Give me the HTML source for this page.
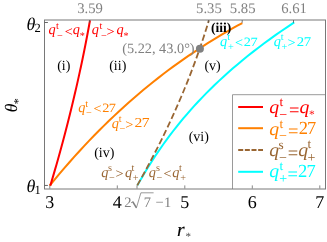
<!DOCTYPE html>
<html><head><meta charset="utf-8"><title>chart</title>
<style>
html,body{margin:0;padding:0;background:#fff;}
svg{display:block;font-family:"Liberation Serif",serif;will-change:transform;text-rendering:geometricPrecision;}
</style></head>
<body>
<svg width="327" height="242" viewBox="0 0 327 242">
<rect x="0" y="0" width="327" height="242" fill="#ffffff"/>
<path d="M137.46,185.30 L139.82,181.12 L142.24,176.95 L144.72,172.77 L147.25,168.59 L149.85,164.42 L152.51,160.24 L155.25,156.06 L158.05,151.88 L160.92,147.71 L163.87,143.53 L166.90,139.35 L170.00,135.18 L173.19,131.00 L176.47,126.82 L179.84,122.65 L183.30,118.47 L186.85,114.29 L190.50,110.12 L194.25,105.94 L198.10,101.76 L202.06,97.58 L206.12,93.41 L210.29,89.23 L214.58,85.05 L218.98,80.88 L223.50,76.70 L228.14,72.52 L232.91,68.35 L237.80,64.17 L242.82,59.99 L247.97,55.82 L253.26,51.64 L258.68,47.46 L264.24,43.28 L269.95,39.11 L275.79,34.93 L281.79,30.75 L287.94,26.58 L294.24,22.40" stroke="#00ffff" stroke-width="2" fill="none"/>
<path d="M49.70,185.57 L54.64,179.56 L59.58,173.67 L64.52,167.90 L69.45,162.23 L74.39,156.68 L79.33,151.24 L84.27,145.91 L89.21,140.68 L94.15,135.56 L99.08,130.55 L104.02,125.63 L108.96,120.82 L113.90,116.11 L118.84,111.49 L123.78,106.97 L128.72,102.54 L133.65,98.20 L138.59,93.96 L143.53,89.81 L148.47,85.74 L153.41,81.76 L158.35,77.86 L163.28,74.05 L168.22,70.32 L173.16,66.66 L178.10,63.09 L183.04,59.59 L187.98,56.17 L192.92,52.82 L197.85,49.55 L202.79,46.34 L207.73,43.20 L212.67,40.13 L217.61,37.12 L222.55,34.18 L227.48,31.30 L232.42,28.48 L237.36,25.72 L242.30,23.02" stroke="#ff8000" stroke-width="2" fill="none"/>
<path d="M90.02,20.30 L89.25,24.54 L88.47,28.78 L87.68,33.02 L86.87,37.25 L86.05,41.49 L85.22,45.73 L84.37,49.97 L83.51,54.21 L82.64,58.45 L81.75,62.68 L80.85,66.92 L79.94,71.16 L79.02,75.40 L78.08,79.64 L77.13,83.88 L76.16,88.12 L75.18,92.35 L74.19,96.59 L73.18,100.83 L72.17,105.07 L71.14,109.31 L70.09,113.55 L69.03,117.78 L67.96,122.02 L66.88,126.26 L65.78,130.50 L64.67,134.74 L63.55,138.98 L62.41,143.22 L61.26,147.45 L60.10,151.69 L58.92,155.93 L57.73,160.17 L56.53,164.41 L55.31,168.65 L54.08,172.88 L52.84,177.12 L51.58,181.36 L50.31,185.60" stroke="#ff0000" stroke-width="2" fill="none"/>
<path d="M137.24,185.40 L139.63,181.17 L141.99,176.93 L144.32,172.70 L146.62,168.47 L148.90,164.23 L151.14,160.00 L153.36,155.77 L155.55,151.53 L157.70,147.30 L159.83,143.07 L161.93,138.83 L164.00,134.60 L166.04,130.37 L168.06,126.13 L170.04,121.90 L171.99,117.67 L173.92,113.43 L175.81,109.20 L177.68,104.97 L179.52,100.73 L181.33,96.50 L183.10,92.27 L184.85,88.03 L186.58,83.80 L188.27,79.57 L189.93,75.33 L191.56,71.10 L193.17,66.87 L194.74,62.63 L196.29,58.40 L197.81,54.17 L199.30,49.93 L200.76,45.70 L202.19,41.47 L203.59,37.23 L204.96,33.00 L206.30,28.77 L207.62,24.53 L208.90,20.30" stroke="#996633" stroke-width="1.8" stroke-dasharray="6.4,2.95" fill="none"/>
<circle cx="199.9" cy="48.8" r="4.0" fill="#808080"/>
<rect x="232.5" y="94.7" width="93.0" height="94.3" fill="#ffffff"/>
<path d="M232.5,189.0 V94.7 H325.5" fill="none" stroke="#8e8e8e" stroke-width="0.9"/>
<rect x="44.5" y="20.0" width="281.0" height="169.0" fill="none" stroke="#787878" stroke-width="1"/>
<line x1="238.2" y1="107" x2="263" y2="107" stroke="#ff0000" stroke-width="2"/>
<line x1="238.2" y1="128.2" x2="263" y2="128.2" stroke="#ff8000" stroke-width="2"/>
<line x1="238.2" y1="149.9" x2="263" y2="149.9" stroke="#996633" stroke-width="2" stroke-dasharray="5,1.65"/>
<line x1="238.2" y1="171.8" x2="263" y2="171.8" stroke="#00ffff" stroke-width="2"/>
<line x1="49.8" y1="188.5" x2="49.8" y2="185.4" stroke="#555" stroke-width="0.7"/>
<line x1="117.3" y1="188.5" x2="117.3" y2="185.4" stroke="#555" stroke-width="0.7"/>
<line x1="184.8" y1="188.5" x2="184.8" y2="185.4" stroke="#555" stroke-width="0.7"/>
<line x1="252.3" y1="188.5" x2="252.3" y2="185.4" stroke="#555" stroke-width="0.7"/>
<line x1="319.8" y1="188.5" x2="319.8" y2="185.4" stroke="#555" stroke-width="0.7"/>
<line x1="137.0" y1="188.5" x2="137.0" y2="185.4" stroke="#555" stroke-width="0.7"/>
<line x1="89.6" y1="20.0" x2="89.6" y2="22.8" stroke="#555" stroke-width="0.8"/>
<line x1="208.4" y1="20.0" x2="208.4" y2="22.8" stroke="#555" stroke-width="0.8"/>
<line x1="242.2" y1="20.0" x2="242.2" y2="22.8" stroke="#555" stroke-width="0.8"/>
<line x1="293.5" y1="20.0" x2="293.5" y2="22.8" stroke="#555" stroke-width="0.8"/>
<line x1="44.5" y1="22.5" x2="47.9" y2="22.5" stroke="#555" stroke-width="0.9"/>
<line x1="44.5" y1="185.45" x2="47.9" y2="185.45" stroke="#555" stroke-width="0.9"/>
<text x="90.1" y="12.6" font-size="14.7" fill="#808080" text-anchor="middle">3.59</text>
<text x="208.9" y="12.6" font-size="14.7" fill="#808080" text-anchor="middle">5.35</text>
<text x="242.7" y="12.6" font-size="14.7" fill="#808080" text-anchor="middle">5.85</text>
<text x="294.0" y="12.6" font-size="14.7" fill="#808080" text-anchor="middle">6.61</text>
<text x="49.8" y="207.5" font-size="18" fill="#000" text-anchor="middle">3</text>
<text x="117.3" y="207.5" font-size="18" fill="#000" text-anchor="middle">4</text>
<text x="184.8" y="207.5" font-size="18" fill="#000" text-anchor="middle">5</text>
<text x="252.3" y="207.5" font-size="18" fill="#000" text-anchor="middle">6</text>
<text x="319.8" y="207.5" font-size="18" fill="#000" text-anchor="middle">7</text>
<text x="124.3" y="206.9" font-size="14.5" fill="#808080" text-anchor="start">2</text>
<path d="M131.0,202.9 L132.9,201.7" stroke="#808080" stroke-width="0.8" fill="none"/><path d="M132.7,201.6 L136.3,207.6" stroke="#808080" stroke-width="1.6" fill="none"/><path d="M136.3,208.2 L140.9,192.8 L153.6,192.8" stroke="#808080" stroke-width="0.8" fill="none" stroke-linejoin="miter"/>
<text x="143.7" y="206.9" font-size="14.5" fill="#808080" text-anchor="start">7</text>
<text x="155.6" y="206.9" font-size="14.5" fill="#808080" text-anchor="start">−</text>
<text x="164.0" y="206.9" font-size="14.5" fill="#808080" text-anchor="start">1</text>
<text x="26.5" y="29.5" font-size="18" font-style="italic" fill="#000">θ</text>
<text x="34.6" y="31.8" font-size="12.5" fill="#000">2</text>
<text x="26.5" y="191.6" font-size="18" font-style="italic" fill="#000">θ</text>
<text x="34.6" y="193.9" font-size="12.5" fill="#000">1</text>
<g transform="translate(17.3,112.2) rotate(-90)"><text x="0" y="0" font-size="17.5" font-style="italic" fill="#000">θ</text><text x="7.9" y="4.5" font-size="12" fill="#000">*</text></g>
<text x="176.9" y="236.3" font-size="19.5" font-style="italic" fill="#000" stroke="#000" stroke-width="0.15">r</text><text x="185.6" y="240.1" font-size="11" fill="#444">*</text>
<text x="57.2" y="69.9" font-size="14" fill="#000" text-anchor="start">(i)</text>
<text x="109.2" y="69.9" font-size="14" fill="#000" text-anchor="start">(ii)</text>
<text x="210.9" y="31.7" font-size="13.6" fill="#000" text-anchor="start" font-weight="bold">(iii)</text>
<text x="204.4" y="70.2" font-size="14" fill="#000" text-anchor="start">(v)</text>
<text x="188.7" y="140.6" font-size="14" fill="#000" text-anchor="start">(vi)</text>
<text x="94.2" y="157.1" font-size="14" fill="#000" text-anchor="start">(iv)</text>
<text x="122.2" y="52.9" font-size="14.3" fill="#808080" text-anchor="start">(5.22, 43.0°)</text>
<text x="48.43" y="34.40" font-size="14.3" fill="#ff0000" font-style="italic">q</text>
<text x="55.90" y="29.00" font-size="10.260000000000002" fill="#ff0000">t</text>
<text x="56.99" y="38.91" font-size="10.260000000000002" fill="#ff0000">−</text>
<text transform="translate(64.69,35.70) scale(1.05,1)" font-size="13.5" fill="#ff0000">&lt;</text>
<text x="72.83" y="34.40" font-size="14.3" fill="#ff0000" font-style="italic">q</text>
<text x="79.80" y="39.21" font-size="10.2" fill="#ff0000">*</text>
<text x="91.83" y="34.40" font-size="14.3" fill="#ff0000" font-style="italic">q</text>
<text x="99.60" y="29.00" font-size="10.260000000000002" fill="#ff0000">t</text>
<text x="100.99" y="38.91" font-size="10.260000000000002" fill="#ff0000">−</text>
<text transform="translate(106.38,35.70) scale(1.05,1)" font-size="13.5" fill="#ff0000">&gt;</text>
<text x="116.53" y="34.40" font-size="14.3" fill="#ff0000" font-style="italic">q</text>
<text x="123.40" y="39.21" font-size="10.2" fill="#ff0000">*</text>
<text x="78.33" y="111.90" font-size="14.3" fill="#ff8000" font-style="italic">q</text>
<text x="85.30" y="106.50" font-size="10.260000000000002" fill="#ff8000">t</text>
<text x="85.99" y="116.41" font-size="10.260000000000002" fill="#ff8000">−</text>
<text transform="translate(93.39,113.20) scale(1.05,1)" font-size="13.5" fill="#ff8000">&lt;</text>
<text transform="translate(102.27,111.80) scale(1.13,1)" font-size="12.7" fill="#ff8000">2</text>
<text transform="translate(108.85,111.80) scale(1.13,1)" font-size="12.7" fill="#ff8000">7</text>
<text x="111.63" y="127.50" font-size="14.3" fill="#ff8000" font-style="italic">q</text>
<text x="118.70" y="122.10" font-size="10.260000000000002" fill="#ff8000">t</text>
<text x="119.39" y="132.01" font-size="10.260000000000002" fill="#ff8000">−</text>
<text transform="translate(125.18,128.80) scale(1.05,1)" font-size="13.5" fill="#ff8000">&gt;</text>
<text transform="translate(134.41,127.40) scale(1.15,1)" font-size="13.6" fill="#ff8000">2</text>
<text transform="translate(141.77,127.40) scale(1.15,1)" font-size="13.6" fill="#ff8000">7</text>
<text x="219.93" y="45.60" font-size="14.3" fill="#00ffff" font-style="italic">q</text>
<text x="227.30" y="40.20" font-size="10.260000000000002" fill="#00ffff">t</text>
<text x="227.99" y="49.81" font-size="10.260000000000002" fill="#00ffff">+</text>
<text transform="translate(234.99,46.90) scale(1.05,1)" font-size="13.5" fill="#00ffff">&lt;</text>
<text transform="translate(243.87,45.50) scale(1.13,1)" font-size="12.7" fill="#00ffff">2</text>
<text transform="translate(250.45,45.50) scale(1.13,1)" font-size="12.7" fill="#00ffff">7</text>
<text x="273.63" y="45.60" font-size="14.3" fill="#00ffff" font-style="italic">q</text>
<text x="280.70" y="40.20" font-size="10.260000000000002" fill="#00ffff">t</text>
<text x="281.39" y="49.81" font-size="10.260000000000002" fill="#00ffff">+</text>
<text transform="translate(287.48,46.90) scale(1.05,1)" font-size="13.5" fill="#00ffff">&gt;</text>
<text transform="translate(296.75,45.50) scale(1.12,1)" font-size="13.2" fill="#00ffff">2</text>
<text transform="translate(303.82,45.50) scale(1.12,1)" font-size="13.2" fill="#00ffff">7</text>
<text x="101.33" y="176.50" font-size="14.3" fill="#996633" font-style="italic">q</text>
<text x="108.08" y="171.10" font-size="10.260000000000002" fill="#996633">s</text>
<text x="108.99" y="181.01" font-size="10.260000000000002" fill="#996633">−</text>
<text transform="translate(115.58,177.80) scale(1.05,1)" font-size="13.5" fill="#996633">&gt;</text>
<text x="124.93" y="176.50" font-size="14.3" fill="#996633" font-style="italic">q</text>
<text x="131.60" y="171.10" font-size="10.260000000000002" fill="#996633">t</text>
<text x="132.69" y="180.71" font-size="10.260000000000002" fill="#996633">+</text>
<text x="148.83" y="176.50" font-size="14.3" fill="#996633" font-style="italic">q</text>
<text x="155.88" y="171.10" font-size="10.260000000000002" fill="#996633">s</text>
<text x="156.49" y="181.01" font-size="10.260000000000002" fill="#996633">−</text>
<text transform="translate(163.39,177.80) scale(1.05,1)" font-size="13.5" fill="#996633">&lt;</text>
<text x="172.23" y="176.50" font-size="14.3" fill="#996633" font-style="italic">q</text>
<text x="179.10" y="171.10" font-size="10.260000000000002" fill="#996633">t</text>
<text x="180.19" y="180.71" font-size="10.260000000000002" fill="#996633">+</text>
<text transform="translate(269.35,113.40) scale(1.07,1)" font-size="18.5" fill="#ff0000" font-style="italic">q</text>
<text x="279.47" y="106.20" font-size="13.3" fill="#ff0000">t</text>
<text x="279.30" y="118.55" font-size="14" fill="#ff0000">−</text>
<text x="288.97" y="116.14" font-size="18.5" fill="#ff0000">=</text>
<text transform="translate(299.55,113.40) scale(1.07,1)" font-size="18.5" fill="#ff0000" font-style="italic">q</text>
<text x="308.94" y="117.52" font-size="11.5" fill="#ff0000">*</text>
<text transform="translate(269.35,134.50) scale(1.07,1)" font-size="18.5" fill="#ff8000" font-style="italic">q</text>
<text x="279.47" y="127.50" font-size="13.3" fill="#ff8000">t</text>
<text x="279.00" y="139.75" font-size="14" fill="#ff8000">−</text>
<text x="287.97" y="137.04" font-size="18.5" fill="#ff8000">=</text>
<text x="298.79" y="134.10" font-size="18.5" fill="#ff8000">2</text>
<text x="307.08" y="134.10" font-size="18.5" fill="#ff8000">7</text>
<text transform="translate(269.15,156.30) scale(1.07,1)" font-size="18.5" fill="#996633" font-style="italic">q</text>
<text x="278.45" y="148.90" font-size="13.3" fill="#996633">s</text>
<text x="279.00" y="161.50" font-size="14" fill="#996633">−</text>
<text x="287.68" y="158.84" font-size="18.5" fill="#996633">=</text>
<text transform="translate(298.15,156.30) scale(1.07,1)" font-size="18.5" fill="#996633" font-style="italic">q</text>
<text x="307.57" y="148.40" font-size="13.3" fill="#996633">t</text>
<text x="307.40" y="161.75" font-size="14" fill="#996633">+</text>
<text transform="translate(269.15,177.10) scale(1.07,1)" font-size="18.5" fill="#00ffff" font-style="italic">q</text>
<text x="279.47" y="169.70" font-size="13.3" fill="#00ffff">t</text>
<text x="279.20" y="182.75" font-size="14" fill="#00ffff">+</text>
<text x="287.47" y="179.74" font-size="18.5" fill="#00ffff">=</text>
<text x="298.09" y="177.10" font-size="18.5" fill="#00ffff">2</text>
<text x="306.38" y="177.10" font-size="18.5" fill="#00ffff">7</text>
</svg>
</body></html>
